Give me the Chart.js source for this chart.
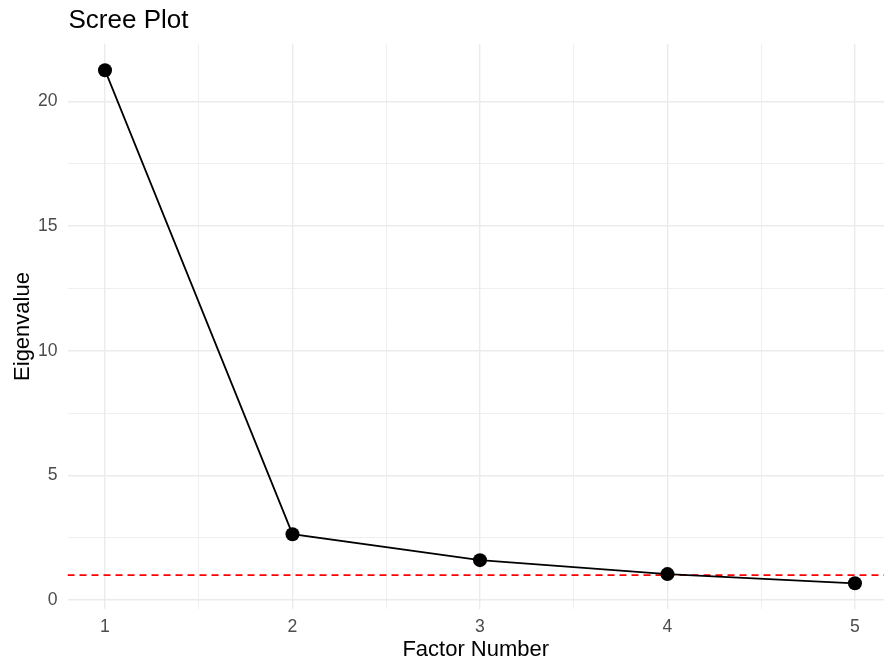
<!DOCTYPE html>
<html>
<head>
<meta charset="utf-8">
<script src="https://cdn.jsdelivr.net/npm/chart.js@4/dist/chart.umd.min.js"></script>
<style>
  html, body { margin: 0; padding: 0; background: #fff; }
  #wrap { width: 884px; height: 661px; }
</style>
</head>
<body>
<div id="wrap"><canvas id="screeChart" width="884" height="661"></canvas></div>
<script>
var factors = [1, 2, 3, 4, 5];
var eigenvalues = [21.25, 2.64, 1.6, 1.04, 0.67];
var cutoff = 1;
var xTicks = [1, 1.5, 2, 2.5, 3, 3.5, 4, 4.5, 5];
var yTicks = [0, 2.5, 5, 7.5, 10, 12.5, 15, 17.5, 20];

var xMin = 0.8, xMax = 5.155;
var yMin = -0.36, yMax = 22.3;

var font = "'Liberation Sans', Arial, sans-serif";

// title drawn at the panel's left edge, like ggplot
var titlePlugin = {
    id: 'leftTitle',
    afterDraw: function (chart) {
        var ctx = chart.ctx;
        ctx.save();
        ctx.fillStyle = '#000';
        ctx.font = '26px ' + font;
        ctx.textBaseline = 'alphabetic';
        ctx.textAlign = 'left';
        ctx.fillText('Scree Plot', chart.chartArea.left + 1, 28);
        ctx.restore();
    }
};

function isMajor(v) { return Math.abs(v - Math.round(v)) < 1e-9; }
function isMajorY(v) { return Math.abs(v / 5 - Math.round(v / 5)) < 1e-9; }

var ctx = document.getElementById("screeChart");
var screeChart = new Chart(ctx, {
    type: 'line',
    data: {
        datasets: [{
            label: 'eigen',
            data: factors.map(function (f, i) { return { x: f, y: eigenvalues[i] }; }),
            borderColor: '#000',
            backgroundColor: '#000',
            borderWidth: 1.8,
            pointRadius: 7,
            pointHoverRadius: 7,
            pointBackgroundColor: '#000',
            pointBorderWidth: 0,
            tension: 0,
            order: 1
        },
        {
            label: 'cutoff',
            data: [{ x: xMin, y: cutoff }, { x: xMax, y: cutoff }],
            borderColor: '#FF0000',
            borderWidth: 1.6,
            borderDash: [7, 5],
            pointRadius: 0,
            order: 2
        }]
    },
    options: {
        responsive: false,
        animation: false,
        // no room kept for the point radius: the panel runs to the right edge
        layout: { autoPadding: false, padding: { top: 44, left: 0, right: 0, bottom: 0 } },
        plugins: {
            legend: { display: false },
            title: { display: false },
            tooltip: { enabled: false }
        },
        scales: {
            x: {
                type: 'linear',
                min: xMin,
                max: xMax,
                afterBuildTicks: function (scale) {
                    scale.ticks = xTicks.map(function (v) { return { value: v }; });
                },
                afterFit: function (scale) {
                    scale.height = 52;
                    scale.paddingLeft = 0;
                    scale.paddingRight = 0;
                },
                border: { display: false },
                grid: {
                    drawTicks: false,
                    color: '#EBEBEB',
                    lineWidth: function (c) { return isMajor(c.tick.value) ? 1.4 : 0.8; }
                },
                ticks: {
                    color: '#4D4D4D',
                    font: { family: font, size: 17.6 },
                    padding: 8,
                    maxRotation: 0,
                    autoSkip: false,
                    callback: function (v) { return isMajor(v) ? String(v) : ''; }
                },
                title: {
                    display: true,
                    text: 'Factor Number',
                    color: '#000',
                    font: { family: font, size: 22, lineHeight: 1 },
                    padding: { top: 0, bottom: 0 }
                }
            },
            y: {
                type: 'linear',
                min: yMin,
                max: yMax,
                afterBuildTicks: function (scale) {
                    scale.ticks = yTicks.map(function (v) { return { value: v }; });
                },
                afterFit: function (scale) {
                    scale.width = 67.5;
                    scale.paddingTop = 0;
                    scale.paddingBottom = 0;
                },
                border: { display: false },
                grid: {
                    drawTicks: false,
                    color: '#EBEBEB',
                    lineWidth: function (c) { return isMajorY(c.tick.value) ? 1.4 : 0.8; }
                },
                ticks: {
                    color: '#4D4D4D',
                    font: { family: font, size: 17.6 },
                    padding: 10,
                    autoSkip: false,
                    callback: function (v) { return isMajorY(v) ? String(v) : ''; }
                },
                title: {
                    display: true,
                    text: 'Eigenvalue',
                    color: '#000',
                    font: { family: font, size: 22, lineHeight: 1 },
                    padding: { top: 11.5, bottom: 0 }
                }
            }
        }
    },
    plugins: [titlePlugin]
});
</script>
</body>
</html>
